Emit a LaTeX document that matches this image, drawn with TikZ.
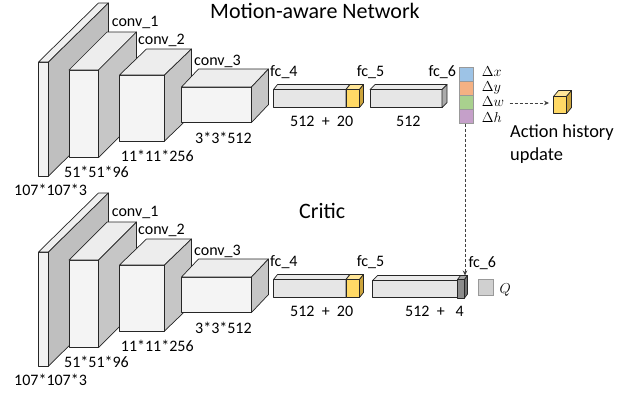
\documentclass[tikz,border=0pt]{standalone}
\usepackage{fontspec}
\setmainfont{Carlito}
\usetikzlibrary{arrows.meta}
\definecolor{slabF}{HTML}{F2F2F2}
\definecolor{slabT}{HTML}{EFEFEF}
\definecolor{slabS}{HTML}{BFBFBF}
\definecolor{convF}{HTML}{F4F4F4}
\definecolor{convT}{HTML}{EDEDED}
\definecolor{convS}{HTML}{C6C6C6}
\definecolor{fcF}{HTML}{E6E6E6}
\definecolor{fcT}{HTML}{EAEAEA}
\definecolor{fcS}{HTML}{ABABAB}
\definecolor{yelF}{HTML}{FFD966}
\definecolor{yelT}{HTML}{FFE699}
\definecolor{yelS}{HTML}{CCA43C}
\definecolor{darkF}{HTML}{8C8C8C}
\definecolor{darkT}{HTML}{A6A6A6}
\definecolor{darkS}{HTML}{707070}
\definecolor{cBlue}{HTML}{9DC3E6}
\definecolor{cOrange}{HTML}{F4B183}
\definecolor{cGreen}{HTML}{A9D18E}
\definecolor{cPurple}{HTML}{C5A0C9}
\definecolor{qGray}{HTML}{D0D0D0}
\tikzset{
  boxline/.style={draw=black!85, line width=0.7pt, line join=round},
  lbl/.style={inner sep=0pt, anchor=base west, font=\fontsize{16}{18}\selectfont},
  ttl/.style={inner sep=0pt, anchor=base west, font=\fontsize{22}{26}\selectfont},
  albl/.style={inner sep=0pt, anchor=base west, font=\fontsize{18.4}{22}\selectfont},
  mlbl/.style={inner sep=0pt, anchor=base west, font=\fontsize{15.5}{17}\selectfont},
  stackbox/.style={draw=black!40, line width=0.9pt, minimum width=14pt, minimum height=14.1pt, inner sep=0pt, anchor=north west},
  flow/.style={draw=black!75, line width=0.8pt, dash pattern=on 3pt off 2pt, -{Stealth[length=5pt,width=4.5pt]}}
}
% cuboid: x1 y1 x2 y2 (front face, pixel coords) dx dy (depth) front top side
\newcommand\mycub[9]{%
  \draw[boxline,fill=#7] (#1,#2) rectangle (#3,#4);
  \draw[boxline,fill=#8] (#1,#2) -- (#1+#5,#2-#6) -- (#3+#5,#2-#6) -- (#3,#2) -- cycle;
  \draw[boxline,fill=#9] (#3,#2) -- (#3+#5,#2-#6) -- (#3+#5,#4-#6) -- (#3,#4) -- cycle;
}
\newcommand\leftnet[1]{%
  \mycub{38.5}{62}{48.5}{176}{60}{59}{slabF}{slabT}{slabS}
  \mycub{69}{70}{98.5}{157.5}{38}{38}{convF}{convT}{convS}
  \mycub{119.5}{75}{164.5}{141}{27}{26}{convF}{convT}{convS}
  \mycub{181.5}{87}{251.5}{122.5}{17}{18}{convF}{convT}{convS}
  \mycub{273.5}{89.5}{346}{107.5}{4}{5}{fcF}{fcT}{fcS}
  \mycub{346}{89.5}{359.5}{107.5}{4}{5}{yelF}{yelT}{yelS}
  \node[lbl] (#1conv1) at (111.7,26.5) {conv\_1};
  \node[lbl] (#1conv2) at (138,44) {conv\_2};
  \node[lbl] (#1conv3) at (194,65.7) {conv\_3};
  \node[lbl] (#1fc4) at (270,76.7) {fc\_4};
  \node[lbl] (#1fc5) at (356.7,76) {fc\_5};
  \node[lbl] (#1in) at (14,195) {107*107*3};
  \node[lbl] (#1c1) at (64,177.7) {51*51*96};
  \node[lbl] (#1c2) at (120.7,161.7) {11*11*256};
  \node[lbl] (#1c3) at (195,143.3) {3*3*512};
  \node[lbl] (#1f4) at (290,126.7) {512 \ + \ 20};
}
\begin{document}
\begin{tikzpicture}[x=1pt,y=-1pt]
\useasboundingbox (0,0) rectangle (631,394);
\fill[white] (0,0) rectangle (631,394);
% ---------- Motion-aware network ----------
\node[ttl] (title1) at (210,18.3) {Motion-aware Network};
\leftnet{a}
\mycub{370}{89.5}{442}{107.5}{5}{5}{fcF}{fcT}{fcS}
\node[lbl] (afc6) at (428.3,76) {fc\_6};
\node[lbl] (af5) at (396,126.7) {512};
\node[stackbox,fill=cBlue] (sdx) at (458.5,66.5) {};
\node[stackbox,fill=cOrange] (sdy) at (458.5,80.6) {};
\node[stackbox,fill=cGreen] (sdw) at (458.5,94.7) {};
\node[stackbox,fill=cPurple] (sdh) at (458.5,108.8) {};
\node[mlbl] (ldx) at (481.7,76) {$\Delta x$};
\node[mlbl] (ldy) at (481.7,91) {$\Delta y$};
\node[mlbl] (ldw) at (481.7,106.5) {$\Delta w$};
\node[mlbl] (ldh) at (481.7,122) {$\Delta h$};
\coordinate (hstart) at (509.5,103);
\coordinate (hend) at (549,103);
\draw[flow] (hstart) -- (hend);
\mycub{553.5}{96.5}{566.5}{113.5}{5}{6}{yelF}{yelT}{yelS}
\node[albl] (act1) at (510,137.7) {Action history};
\node[albl] (act2) at (510,160) {update};
% ---------- Critic ----------
\node[ttl] (title2) at (299,218.3) {Critic};
\begin{scope}[yshift=-190pt]
\leftnet{b}
\end{scope}
\mycub{372.5}{280.5}{457.5}{297.5}{5}{5}{fcF}{fcT}{fcS}
\mycub{457.5}{279.5}{464.5}{298}{3}{4}{darkF}{darkT}{darkS}
\node[lbl] (bfc6) at (468.3,267.7) {fc\_6};
\node[lbl] (bf5) at (405,316.7) {512 \ + \ \ 4};
\node[draw=black!40, line width=1.1pt, fill=qGray, minimum size=15.5pt, inner sep=0pt, anchor=north west] (qbox) at (477.7,279) {};
\node[mlbl] (qlbl) at (499.3,293.3) {$Q$};
\coordinate (darktop) at (465,275.5);
\draw[flow] (sdh.south -| darktop) -- (darktop);
\end{tikzpicture}
\end{document}
